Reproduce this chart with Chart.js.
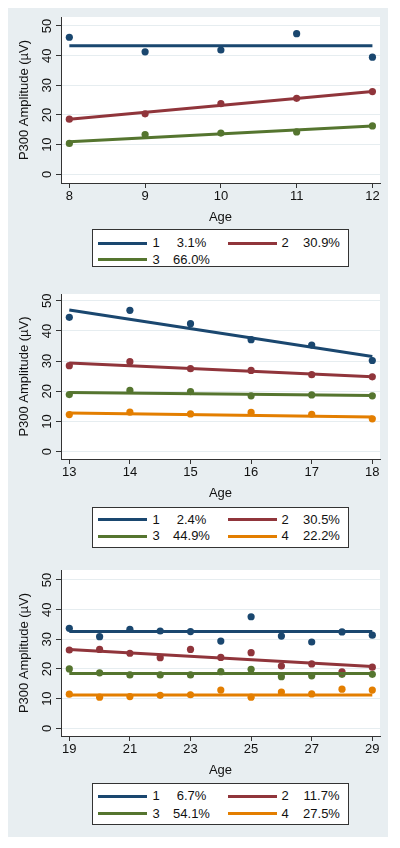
<!DOCTYPE html>
<html>
<head>
<meta charset="utf-8">
<script src="https://cdn.jsdelivr.net/npm/chart.js@4.4.1/dist/chart.umd.min.js"></script>
<style>
html,body{margin:0;padding:0;background:#fff;width:400px;height:848px;overflow:hidden;font-family:"Liberation Sans",Arial,sans-serif;}
#bg{position:absolute;left:8px;top:8px;width:380px;height:829px;background:#e8eef1;}
.cw{position:absolute;left:8px;width:380px;}
.lg{position:absolute;left:92px;width:255px;background:#fff;border:1px solid #333;}
.ln{position:absolute;height:3px;width:49px;}
.tx{position:absolute;font-size:13px;line-height:16px;color:#111;white-space:nowrap;}
.pc{position:absolute;font-size:13px;line-height:16px;color:#111;width:60px;text-align:center;}
</style>
</head>
<body>
<div id="bg"></div>
<div class="cw" style="top:8px;height:218px"><canvas id="c1" width="380" height="218"></canvas></div>
<div class="cw" style="top:280px;height:222px"><canvas id="c2" width="380" height="222"></canvas></div>
<div class="cw" style="top:556px;height:223px"><canvas id="c3" width="380" height="223"></canvas></div>
<div class="lg" id="lg1" style="top:229px;height:36px"></div>
<div class="lg" id="lg2" style="top:507px;height:39px"></div>
<div class="lg" id="lg3" style="top:783px;height:40px"></div>
<script>
// ---- data ----
const yTicks = [0, 10, 20, 30, 40, 50];
const yTitle = "P300 Amplitude (µV)";
const xTitle = "Age";
const classLabels = ["1", "2", "3", "4"];
const classColors = ["#1a476f", "#90353b", "#55752f", "#e37e00"];

// Panel 1: ages 8-12
const p1Ages = [8, 9, 10, 11, 12];
const p1Ticks = [8, 9, 10, 11, 12];
const p1Class1 = [46.2, 41.3, 41.9, 47.4, 39.5];
const p1Class2 = [18.6, 20.4, 23.8, 25.6, 27.9];
const p1Class3 = [10.4, 13.4, 13.9, 14.3, 16.3];
const p1Fit1 = [43.3, 43.3];
const p1Fit2 = [18.6, 27.9];
const p1Fit3 = [11.0, 16.3];
const p1Pct = ["3.1%", "30.9%", "66.0%"];

// Panel 2: ages 13-18
const p2Ages = [13, 14, 15, 16, 17, 18];
const p2Ticks = [13, 14, 15, 16, 17, 18];
const p2Class1 = [44.5, 46.8, 42.4, 37.1, 35.3, 30.2];
const p2Class2 = [28.5, 29.8, 27.5, 26.9, 25.5, 24.8];
const p2Class3 = [18.9, 20.3, 19.9, 18.5, 18.8, 18.5];
const p2Class4 = [12.3, 13.1, 12.5, 13.0, 12.4, 10.9];
const p2Fit1 = [46.9, 31.5];
const p2Fit2 = [29.4, 24.8];
const p2Fit3 = [19.6, 18.6];
const p2Fit4 = [12.8, 11.5];
const p2Pct = ["2.4%", "30.5%", "44.9%", "22.2%"];

// Panel 3: ages 19-29
const p3Ages = [19, 20, 21, 22, 23, 24, 25, 26, 27, 28, 29];
const p3Ticks = [19, 21, 23, 25, 27, 29];
const p3Class1 = [33.7, 30.9, 33.4, 32.8, 32.6, 29.4, 37.6, 31.1, 29.1, 32.5, 31.4];
const p3Class2 = [26.4, 26.6, 25.3, 23.8, 26.6, 23.9, 25.5, 21.0, 21.7, 19.0, 20.6];
const p3Class3 = [20.0, 18.7, 18.0, 18.0, 18.0, 19.1, 19.9, 17.4, 17.7, 18.2, 18.2];
const p3Class4 = [11.5, 10.5, 10.7, 11.1, 11.3, 12.9, 10.5, 12.2, 11.6, 13.2, 12.9];
const p3Fit1 = [32.6, 32.6];
const p3Fit2 = [26.6, 20.8];
const p3Fit3 = [18.5, 18.5];
const p3Fit4 = [11.2, 11.2];
const p3Pct = ["6.7%", "11.7%", "54.1%", "27.5%"];

// ---- rendering ----
const FONT = '"Liberation Sans", Arial, sans-serif';
Chart.defaults.font.family = FONT;
Chart.defaults.font.size = 13;
Chart.defaults.color = '#111';

const plotBg = {
  id: 'plotBg',
  beforeDraw(chart) {
    const {ctx, chartArea: a} = chart;
    ctx.save();
    ctx.fillStyle = '#ffffff';
    ctx.fillRect(a.left, a.top, a.right - a.left, a.bottom - a.top);
    ctx.restore();
  }
};

// y tick labels, rotated to read bottom-to-top (vertical labels), placed by the y scale
const rotatedYLabels = {
  id: 'rotYLabels',
  afterDraw(chart) {
    const s = chart.scales.y;
    const ctx = chart.ctx;
    ctx.save();
    ctx.font = '13px ' + FONT;
    ctx.fillStyle = '#111';
    ctx.textAlign = 'center';
    ctx.textBaseline = 'middle';
    const cx = s.right - 13.3;
    s.ticks.forEach(t => {
      const py = s.getPixelForValue(t.value);
      ctx.save();
      ctx.translate(cx, py);
      ctx.rotate(-Math.PI / 2);
      ctx.fillText(String(t.value), 0, 0);
      ctx.restore();
    });
    ctx.restore();
  }
};

function makePanel(id, ages, series, fits, xTickVals, xr, yr, padTop) {
  const datasets = [];
  fits.forEach((f, i) => {
    datasets.push({
      data: [{x: ages[0], y: f[0]}, {x: ages[ages.length - 1], y: f[1]}],
      showLine: true, pointRadius: 0, borderWidth: 3,
      borderColor: classColors[i], backgroundColor: classColors[i]
    });
  });
  series.forEach((s, i) => {
    datasets.push({
      data: ages.map((a, k) => ({x: a, y: s[k]})),
      showLine: false, pointRadius: 3.6, borderWidth: 0,
      backgroundColor: classColors[i], borderColor: classColors[i]
    });
  });
  new Chart(document.getElementById(id), {
    type: 'scatter',
    data: {datasets},
    options: {
      responsive: false, animation: false, devicePixelRatio: 1,
      layout: {padding: {top: padTop, right: 8, bottom: 0, left: 0}},
      plugins: {legend: {display: false}, tooltip: {enabled: false}},
      scales: {
        x: {
          type: 'linear', min: xr[0], max: xr[1],
          afterBuildTicks: ax => { ax.ticks = xTickVals.map(v => ({value: v})); },
          afterFit: s => { s.height = 43; },
          grid: {drawOnChartArea: false, drawTicks: true, tickLength: 5, tickColor: '#333', tickWidth: 1},
          border: {color: '#333', width: 1},
          ticks: {padding: 1, maxRotation: 0, autoSkip: false, color: '#111'},
          title: {display: true, text: xTitle, color: '#111', padding: {top: 0, bottom: 1}}
        },
        y: {
          type: 'linear', min: yr[0], max: yr[1],
          afterBuildTicks: ax => { ax.ticks = yTicks.map(v => ({value: v})); },
          afterFit: s => { s.width = 53; },
          grid: {color: '#e6edf0', drawTicks: true, tickLength: 5, tickColor: '#333', tickWidth: 1},
          border: {color: '#333', width: 1},
          ticks: {display: false},
          title: {display: true, text: yTitle, color: '#111', padding: {top: 9, bottom: 0}}
        }
      }
    },
    plugins: [plotBg, rotatedYLabels]
  });
}

function buildLegend(id, pcts, rows) {
  const el = document.getElementById(id);
  pcts.forEach((p, i) => {
    const col = i % 2, row = Math.floor(i / 2);
    const cy = rows[row];
    const ln = document.createElement('div');
    ln.className = 'ln';
    ln.style.left = (col ? 134.7 : 4.7) + 'px';
    ln.style.top = (cy - 1.5) + 'px';
    ln.style.background = classColors[i];
    el.appendChild(ln);
    const k = document.createElement('div');
    k.className = 'tx';
    k.textContent = classLabels[i];
    k.style.left = (col ? 188.5 : 59.5) + 'px';
    k.style.top = (cy - 8) + 'px';
    el.appendChild(k);
    const t = document.createElement('div');
    t.className = 'pc';
    t.textContent = p;
    t.style.left = ((col ? 228.5 : 98.5) - 30) + 'px';
    t.style.top = (cy - 8) + 'px';
    el.appendChild(t);
  });
}

makePanel('c1', p1Ages, [p1Class1, p1Class2, p1Class3], [p1Fit1, p1Fit2, p1Fit3], p1Ticks, [7.89, 12.10], [-2.93, 53.03], 9);
makePanel('c2', p2Ages, [p2Class1, p2Class2, p2Class3, p2Class4], [p2Fit1, p2Fit2, p2Fit3, p2Fit4], p2Ticks, [12.863, 18.127], [-2.42, 52.22], 14);
makePanel('c3', p3Ages, [p3Class1, p3Class2, p3Class3, p3Class4], [p3Fit1, p3Fit2, p3Fit3, p3Fit4], p3Ticks, [18.726, 29.254], [-2.6, 53.37], 14);

buildLegend('lg1', p1Pct, [13, 29.7]);
buildLegend('lg2', p2Pct, [11.7, 28.4]);
buildLegend('lg3', p3Pct, [12.4, 29.7]);
</script>
</body>
</html>
